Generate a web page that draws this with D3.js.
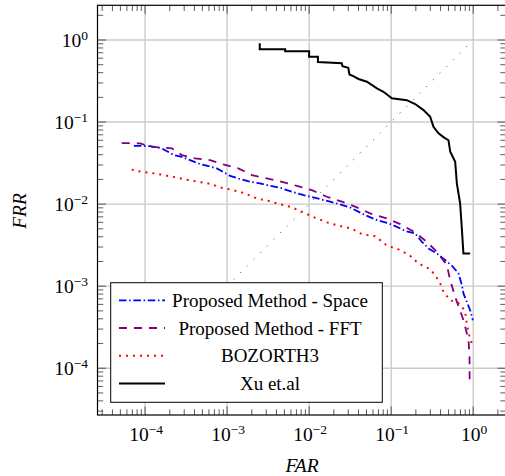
<!DOCTYPE html>
<html lang="en">
<head>
<meta charset="UTF-8">
<title>DET curve</title>
<script src="https://cdnjs.cloudflare.com/ajax/libs/d3/7.8.5/d3.min.js"></script>
<style>
  body { margin: 0; background: #fff; }
</style>
</head>
<body>
<svg id="chart" width="505" height="476"></svg>
<script>
// values (FAR, FRR pairs)
const spaceFAR = [7.3e-5, 1.15e-4, 1.6e-4, 2.24e-4, 2.8e-4, 4.47e-4, 7.5e-4, 1.09e-3, 1.44e-3, 1.9e-3, 2.52e-3, 3.34e-3, 4.43e-3, 5.86e-3, 7.76e-3, 0.0103, 0.0136, 0.018, 0.0239, 0.0316, 0.0482, 0.067, 0.0887, 0.112, 0.148, 0.196, 0.237, 0.285, 0.361, 0.456, 0.55, 0.662, 0.728, 0.762, 0.918, 0.99];
const spaceFRR = [0.0514, 0.051, 0.0478, 0.0396, 0.0377, 0.0313, 0.0272, 0.0221, 0.0202, 0.0187, 0.0179, 0.0167, 0.0158, 0.0144, 0.0132, 0.0123, 0.0115, 0.0107, 0.0099, 0.0091, 0.00735, 0.00638, 0.00592, 0.0054, 0.00472, 0.0044, 0.00347, 0.00288, 0.0025, 0.00207, 0.00178, 0.00143, 0.00103, 8.1e-4, 5.1e-4, 3.85e-4];

const fftFAR = [5.2e-5, 8.7e-5, 1.15e-4, 2.12e-4, 2.8e-4, 4.07e-4, 6.2e-4, 9.0e-4, 1.37e-3, 2.0e-3, 3.05e-3, 4.64e-3, 7.08e-3, 0.0108, 0.0164, 0.0251, 0.0382, 0.0555, 0.0887, 0.129, 0.196, 0.272, 0.367, 0.478, 0.525, 0.603, 0.762, 0.878, 0.902, 0.906];
const fftFRR = [0.0555, 0.055, 0.05, 0.0478, 0.0396, 0.036, 0.0344, 0.0305, 0.0272, 0.0226, 0.0206, 0.0187, 0.0167, 0.0148, 0.0123, 0.0107, 0.00914, 0.0077, 0.0067, 0.0057, 0.00452, 0.00347, 0.00258, 0.0018, 0.00118, 7.4e-4, 3.85e-4, 2.2e-4, 1.37e-4, 6.5e-5];

const bozFAR = [6.9e-5, 7.55e-5, 9.27e-5, 1.15e-4, 1.55e-4, 2.18e-4, 3.08e-4, 4.47e-4, 6.2e-4, 8.6e-4, 1.19e-3, 1.66e-3, 2.3e-3, 3.25e-3, 4.52e-3, 6.25e-3, 8.7e-3, 0.0119, 0.0167, 0.0234, 0.0332, 0.044, 0.0638, 0.0887, 0.123, 0.167, 0.215, 0.299, 0.344, 0.396, 0.435, 0.525, 0.633, 0.708, 0.798, 0.822, 0.902, 0.964];
const bozFRR = [0.0265, 0.0253, 0.0248, 0.0241, 0.023, 0.0215, 0.02, 0.0187, 0.0177, 0.0158, 0.0148, 0.0135, 0.0117, 0.0109, 0.0099, 0.0091, 0.00783, 0.0068, 0.00598, 0.00543, 0.00502, 0.0043, 0.00407, 0.00313, 0.0028, 0.00239, 0.00189, 0.00161, 0.00136, 0.00108, 8.5e-4, 6.7e-4, 6.4e-4, 5.9e-4, 4.9e-4, 3.85e-4, 2.4e-4, 2.0e-4];

const xuFAR = [2.5e-3, 2.5e-3, 5.1e-3, 5.1e-3, 1.0e-2, 1.0e-2, 1.28e-2, 1.28e-2, 2.5e-2, 2.55e-2, 3.0e-2, 3.1e-2, 3.5e-2, 4.0e-2, 5.06e-2, 6.7e-2, 8.06e-2, 0.102, 0.155, 0.196, 0.248, 0.299, 0.328, 0.378, 0.434, 0.5, 0.525, 0.603, 0.632, 0.693, 0.727, 0.76, 0.918];
const xuFRR = [0.91, 0.77, 0.77, 0.73, 0.73, 0.625, 0.625, 0.54, 0.52, 0.48, 0.46, 0.38, 0.36, 0.335, 0.31, 0.258, 0.234, 0.195, 0.185, 0.166, 0.14, 0.116, 0.0877, 0.0728, 0.0656, 0.06, 0.0434, 0.0328, 0.0179, 0.0102, 0.00506, 0.0025, 0.0025];

const eerFAR = [1e-3, 1];
const eerFRR = [1e-3, 1];

const decades = [-4, -3, -2, -1, 0];
const legendLabels = ["Proposed Method - Space", "Proposed Method - FFT", "BOZORTH3", "Xu et.al"];

const serif = "Tinos, 'Liberation Serif', 'DejaVu Serif', 'Noto Serif', FreeSerif, 'Nimbus Roman', Times, serif";
const svg = d3.select("#chart").attr("font-family", serif);
const plot = {left: 97.5, right: 506, top: 5.3, bottom: 415};

const x = d3.scaleLog()
    .domain([Math.pow(10, -4.58), Math.pow(10, 0.4)])
    .range([plot.left, plot.right]);
const y = d3.scaleLog()
    .domain([Math.pow(10, -4.57), Math.pow(10, 0.423)])
    .range([plot.bottom, plot.top]);

// grid
const grid = svg.append("g").attr("stroke", "#cbcbcb").attr("stroke-width", 1.4);
decades.forEach(d => {
    const v = Math.pow(10, d);
    grid.append("line").attr("x1", x(v)).attr("x2", x(v)).attr("y1", plot.top).attr("y2", plot.bottom);
    grid.append("line").attr("y1", y(v)).attr("y2", y(v)).attr("x1", plot.left).attr("x2", plot.right);
});

// ticks on all four sides, pointing inwards
const isMajor = v => Math.abs(Math.log10(v) - Math.round(Math.log10(v))) < 1e-9;
const ticks = svg.append("g").attr("stroke", "#333").attr("stroke-width", 0.8);
x.ticks().forEach(v => {
    const len = isMajor(v) ? 8.5 : 5.7;
    ticks.append("line").attr("x1", x(v)).attr("x2", x(v)).attr("y1", plot.bottom).attr("y2", plot.bottom - len);
    ticks.append("line").attr("x1", x(v)).attr("x2", x(v)).attr("y1", plot.top).attr("y2", plot.top + len);
});
y.ticks().forEach(v => {
    const len = isMajor(v) ? 8.5 : 5.7;
    ticks.append("line").attr("y1", y(v)).attr("y2", y(v)).attr("x1", plot.left).attr("x2", plot.left + len);
    ticks.append("line").attr("y1", y(v)).attr("y2", y(v)).attr("x1", plot.right).attr("x2", plot.right - len);
});

// curves
const line = d3.line().x(d => x(d[0])).y(d => y(d[1]));
const series = [
    {far: spaceFAR, frr: spaceFRR, color: "#0000ff", dash: "7.5,2.7,1.5,2.7", width: 1.8},
    {far: fftFAR, frr: fftFRR, color: "#800080", dash: "8,7", width: 1.8},
    {far: bozFAR, frr: bozFRR, color: "#ff0000", dash: "2,5", width: 2},
    {far: xuFAR, frr: xuFRR, color: "#000000", dash: null, width: 2}
];
series.forEach(s => {
    svg.append("path")
        .datum(d3.zip(s.far, s.frr))
        .attr("d", line)
        .attr("fill", "none")
        .attr("stroke", s.color)
        .attr("stroke-width", s.width)
        .attr("stroke-dasharray", s.dash);
});

svg.append("path")
    .datum(d3.zip(eerFAR, eerFRR))
    .attr("d", line)
    .attr("fill", "none")
    .attr("stroke", "#333")
    .attr("stroke-width", 1)
    .attr("stroke-dasharray", "1,8.4");

// frame
svg.append("rect")
    .attr("x", plot.left).attr("y", plot.top)
    .attr("width", plot.right - plot.left).attr("height", plot.bottom - plot.top)
    .attr("fill", "none").attr("stroke", "#000").attr("stroke-width", 1.2);

// tick labels 10^k
function powLabel(g, exp) {
    g.append("tspan").text("10");
    g.append("tspan").attr("dy", -7.5).attr("font-size", 13.5).text(exp < 0 ? "\u2212" + (-exp) : exp);
}
decades.forEach(d => {
    const v = Math.pow(10, d);
    const tx = svg.append("text")
        .attr("x", x(v) + 1).attr("y", 441)
        .attr("text-anchor", "middle").attr("font-size", 19.5);
    powLabel(tx, d);
    const ty = svg.append("text")
        .attr("x", 88).attr("y", y(v) + 7)
        .attr("text-anchor", "end").attr("font-size", 19.5);
    powLabel(ty, d);
});

// axis titles
svg.append("text")
    .attr("x", 302).attr("y", 472)
    .attr("text-anchor", "middle").attr("font-size", 19.5).attr("font-style", "italic")
    .text("FAR");
svg.append("text")
    .attr("transform", "translate(25.5,211) rotate(-90)")
    .attr("text-anchor", "middle").attr("font-size", 19.5).attr("font-style", "italic")
    .text("FRR");

// legend
const legend = svg.append("g");
legend.append("rect")
    .attr("x", 110.7).attr("y", 282.7).attr("width", 271.6).attr("height", 119.6)
    .attr("fill", "#fff").attr("stroke", "#000").attr("stroke-width", 1);
legendLabels.forEach((name, i) => {
    const s = series[i];
    const ly = 300.3 + i * 27.7;
    legend.append("line")
        .attr("x1", 119).attr("x2", 165).attr("y1", ly).attr("y2", ly)
        .attr("stroke", s.color).attr("stroke-width", s.width)
        .attr("stroke-dasharray", s.dash);
    legend.append("text")
        .attr("x", 270).attr("y", ly + 6.5)
        .attr("text-anchor", "middle").attr("font-size", 19)
        .text(name);
});
</script>
</body>
</html>
